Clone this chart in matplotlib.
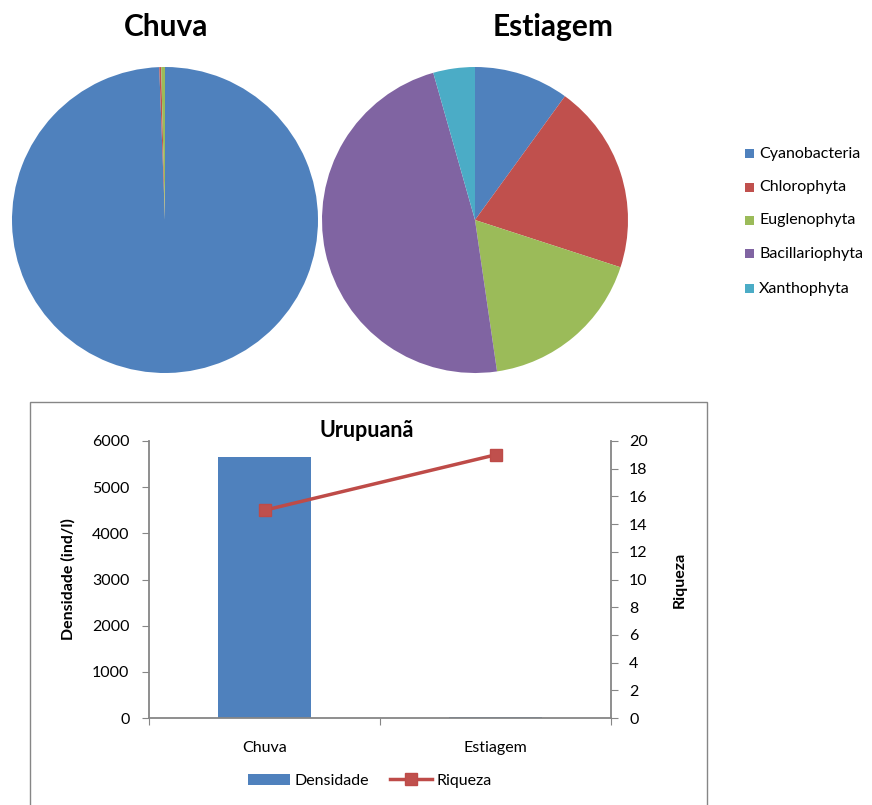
import matplotlib
matplotlib.use("Agg")
import matplotlib.pyplot as plt
from matplotlib.patches import Rectangle
from matplotlib.lines import Line2D

plt.rcParams['font.family'] = ['Lato', 'DejaVu Sans']

# Composition of phytoplankton groups (%)
groups = ['Cyanobacteria', 'Chlorophyta', 'Euglenophyta', 'Bacillariophyta', 'Xanthophyta']
colors = ['#4F81BD', '#C0504D', '#9BBB59', '#8064A2', '#4BACC6']
chuva_pct = [99.4, 0.2, 0.4, 0.0, 0.0]
estiagem_pct = [10.0, 20.0, 17.7, 47.9, 4.4]

# Density and richness per season
seasons = ['Chuva', 'Estiagem']
densidade = [5650, 30]
riqueza = [15, 19]

W, H = 872, 805
fig = plt.figure(figsize=(W / 100, H / 100), dpi=100)


def fbox(x0, y0, x1, y1):
    return [x0 / W, 1 - y1 / H, (x1 - x0) / W, (y1 - y0) / H]


def draw_pie(rect, values):
    ax = fig.add_axes(rect)
    ax.pie(values, colors=colors, startangle=90, counterclock=False,
           wedgeprops=dict(linewidth=0))
    ax.set_aspect('equal')
    ax.set_xlim(-1, 1)
    ax.set_ylim(-1, 1)
    ax.axis('off')
    return ax


draw_pie(fbox(12, 67, 318, 373), chuva_pct)
draw_pie(fbox(322, 67, 628, 373), estiagem_pct)

fig.text(166 / W, 1 - 27 / H, 'Chuva', ha='center', va='center',
         fontsize=21.5, fontweight='bold')
fig.text(553 / W, 1 - 27 / H, 'Estiagem', ha='center', va='center',
         fontsize=21.5, fontweight='bold')

# Pie legend
leg_y = [154, 187, 220, 254, 289]
for name, c, y in zip(groups, colors, leg_y):
    fig.patches.append(Rectangle((745 / W, 1 - (y + 4.5) / H), 9 / W, 9 / H,
                                 transform=fig.transFigure, facecolor=c,
                                 edgecolor='none'))
    fig.text(759 / W, 1 - y / H, name, ha='left', va='center', fontsize=11.5)

# Frame around the bar chart
fig.patches.append(Rectangle((30 / W, -0.01), (707 - 30) / W, (1 - 402 / H) + 0.01,
                             transform=fig.transFigure, facecolor='none',
                             edgecolor='#868686', linewidth=1.0))

ax = fig.add_axes(fbox(149, 441, 611, 718))
axis_gray = '#868686'
x = [0, 1]
ax.bar(x, densidade, width=0.4, color='#4F81BD', zorder=2)
ax.set_xlim(-0.5, 1.5)
ax.set_ylim(0, 6000)
ax.set_yticks(range(0, 6001, 1000))
ax.set_xticks([-0.5, 0.5, 1.5])
ax.set_xticklabels([])
ax.tick_params(axis='x', length=5, color=axis_gray, direction='out')
ax.tick_params(axis='y', length=5, color=axis_gray, direction='out',
               labelsize=11.5, pad=9)
for i, s in enumerate(seasons):
    ax.text(x[i], -0.11, s, transform=ax.get_xaxis_transform(),
            ha='center', va='center', fontsize=11.5)
for side in ['top', 'right']:
    ax.spines[side].set_visible(False)
for side in ['left', 'bottom']:
    ax.spines[side].set_color(axis_gray)
    ax.spines[side].set_linewidth(1.3)
ax.set_ylabel('Densidade (ind/l)', fontsize=11.5, fontweight='bold', labelpad=12)
ax.set_title('Urupuanã', fontsize=15.5, fontweight='bold', pad=-14,
             x=(367 - 149) / (611 - 149))

ax2 = ax.twinx()
ax2.plot(x, riqueza, color='#BE4B48', linewidth=2.5, marker='s',
         markersize=9, markerfacecolor='#C0504D', markeredgecolor='#BE4B48',
         zorder=3)
ax2.set_ylim(0, 20)
ax2.set_yticks(range(0, 21, 2))
ax2.tick_params(axis='y', length=5, color=axis_gray, direction='out',
                labelsize=11.5, pad=8)
for side in ['top', 'left', 'bottom']:
    ax2.spines[side].set_visible(False)
ax2.spines['right'].set_color(axis_gray)
ax2.spines['right'].set_linewidth(1.3)
ax2.set_ylabel('Riqueza', fontsize=11.5, fontweight='bold', labelpad=18)

handles = [Rectangle((0, 0), 1, 1, facecolor='#4F81BD'),
           Line2D([0], [0], color='#BE4B48', linewidth=2.5, marker='s',
                  markersize=9, markerfacecolor='#C0504D')]
fig.legend(handles, ['Densidade', 'Riqueza'], loc='center',
           bbox_to_anchor=(370 / W, 1 - 781 / H), ncol=2, frameon=False,
           fontsize=11.5, handlelength=2.6, columnspacing=1.3, handletextpad=0.3)

fig.savefig('out.png', dpi=100)
